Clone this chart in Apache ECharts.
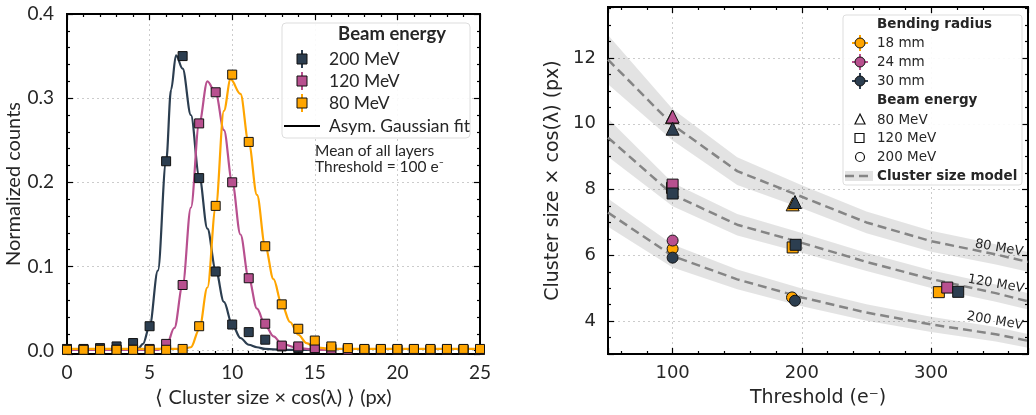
<!DOCTYPE html>
<html>
<head>
<meta charset="utf-8">
<script src="https://cdn.jsdelivr.net/npm/echarts@6/dist/echarts.min.js"></script>
<style>
  html, body { margin: 0; padding: 0; background: #fff; }
  #wrap { position: relative; width: 1036px; height: 415px; }
  #labels, #ticks, #chart { position: absolute; left: 0; top: 0; width: 1036px; height: 415px; }
</style>
</head>
<body>
<div id="wrap"><div id="labels"></div><div id="ticks"></div><div id="chart"></div></div>
<script>
// ---- left panel: cluster size distributions (threshold 100 e-) ----
const clusterSize = [0, 1, 2, 3, 4, 5, 6, 7, 8, 9, 10, 11, 12, 13, 14, 15, 16, 17, 18, 19, 20, 21, 22, 23, 24, 25];
const counts200 = [0.002, 0.002, 0.003, 0.005, 0.009, 0.029, 0.225, 0.350, 0.205, 0.094, 0.031, 0.022, 0.013, 0.005, 0.003, 0.002, 0.002, 0.001, 0.001, 0.001, 0.001, 0.001, 0.001, 0.001, 0.001, 0.001];
const counts120 = [0.001, 0.001, 0.001, 0.001, 0.001, 0.002, 0.008, 0.078, 0.270, 0.307, 0.200, 0.086, 0.032, 0.006, 0.005, 0.003, 0.002, 0.001, 0.001, 0.001, 0.001, 0.001, 0.001, 0.001, 0.001, 0.001];
const counts80 = [0.001, 0.001, 0.001, 0.001, 0.001, 0.001, 0.001, 0.002, 0.029, 0.172, 0.328, 0.248, 0.124, 0.055, 0.026, 0.012, 0.005, 0.003, 0.002, 0.002, 0.002, 0.002, 0.002, 0.002, 0.002, 0.002];

// asymmetric gaussian fits
const fit200X = [0, 4.0, 4.3, 4.6, 5.0, 5.5, 6.0, 6.3, 6.6, 7.0, 7.5, 8.0, 8.5, 9.0, 9.5, 10.0, 10.5, 11.0, 11.5, 12.0, 13.0, 16.0];
const fit200Y = [0.001, 0.001, 0.002, 0.008, 0.029, 0.095, 0.225, 0.31, 0.351, 0.335, 0.28, 0.208, 0.145, 0.096, 0.058, 0.031, 0.015, 0.007, 0.004, 0.002, 0.001, 0.001];
const fit120X = [0, 5.5, 6.0, 6.5, 7.0, 7.5, 8.0, 8.5, 9.0, 9.5, 10.0, 10.5, 11.0, 11.5, 12.0, 12.5, 13.0, 14.0, 15.0, 16.0];
const fit120Y = [0.001, 0.001, 0.005, 0.027, 0.078, 0.17, 0.27, 0.32, 0.306, 0.262, 0.200, 0.138, 0.086, 0.05, 0.03, 0.017, 0.008, 0.003, 0.001, 0.001];
const fit80X = [0, 7.0, 7.5, 8.0, 8.5, 9.0, 9.5, 9.9, 10.5, 11.0, 11.5, 12.0, 12.5, 13.0, 13.5, 14.0, 14.5, 15.0, 16.0, 25];
const fit80Y = [0.002, 0.002, 0.004, 0.025, 0.075, 0.17, 0.285, 0.3225, 0.305, 0.247, 0.185, 0.124, 0.085, 0.055, 0.034, 0.019, 0.009, 0.004, 0.002, 0.002];

// ---- right panel: mean cluster size vs threshold ----
const modelThreshold = [50, 100, 150, 200, 250, 300, 350, 375];
const model80 = [11.95, 9.97, 8.56, 7.78, 7.0, 6.43, 6.03, 5.8];
const model80Low = [11.2, 9.49, 8.14, 7.43, 6.67, 6.11, 5.72, 5.5];
const model80High = [12.7, 10.45, 8.98, 8.13, 7.33, 6.75, 6.34, 6.1];
const model120 = [9.58, 7.85, 6.93, 6.38, 5.8, 5.28, 4.85, 4.6];
const model120Low = [9.0, 7.49, 6.6, 6.08, 5.52, 5.01, 4.59, 4.35];
const model120High = [10.16, 8.21, 7.26, 6.68, 6.08, 5.55, 5.11, 4.85];
const model200 = [7.3, 5.98, 5.27, 4.72, 4.26, 3.9, 3.6, 3.4];
const model200Low = [6.87, 5.63, 4.97, 4.45, 4.01, 3.67, 3.38, 3.19];
const model200High = [7.73, 6.33, 5.57, 4.99, 4.51, 4.13, 3.82, 3.61];

// measurements per bending radius: [threshold, cluster size]
const r18e80 = [[99.5, 10.2], [192.9, 7.55]];
const r18e120 = [[99.5, 8.05], [192.9, 6.24], [306, 4.88]];
const r18e200 = [[100, 6.2], [192.4, 4.72]];
const r24e80 = [[100, 10.22]];
const r24e120 = [[100, 8.15], [312.5, 5.02]];
const r24e200 = [[100, 6.45]];
const r30e80 = [[100, 9.85], [194.7, 7.62]];
const r30e120 = [[100, 7.88], [195.2, 6.32], [321, 4.89]];
const r30e200 = [[100, 5.93], [194.7, 4.62]];

const xTicksLeft = [0, 5, 10, 15, 20, 25];
const yTicksLeft = [0, 0.1, 0.2, 0.3, 0.4];
const xTicksRight = [100, 200, 300];
const yTicksRight = [4, 6, 8, 10, 12];

const NAVY = '#2c3e50';
const PINK = '#b8508f';
const ORANGE = '#ffa500';
const fontL = 'Lato';
const fontR = 'DejaVu Sans';
const TXT = '#262626';

const grids = [
  { left: 67, top: 14, width: 413, height: 340 },
  { left: 608, top: 7, width: 420, height: 347 }
];
// scale settings of the 4 x and 4 y axes: [grid, position, min, max, interval, splitNumber, minor split]
const xScales = [[0, 'bottom', 0, 25, 5, null, 5], [0, 'top', 0, 25, 5, null, 5],
                 [1, 'bottom', 50, 375, null, 3, 5], [1, 'top', 50, 375, null, 3, 5]];
const yScales = [[0, 'left', -0.004, 0.4, null, 4, 5], [0, 'right', -0.004, 0.4, null, 4, 5],
                 [1, 'left', 3.0, 13.55, null, 5, 4], [1, 'right', 3.0, 13.55, null, 5, 4]];

// mode 'tick': frame lines and inward ticks; 'label': labels, titles, grid lines; 'data': hidden
function axis(s, mode, opt) {
  const showTick = mode === 'tick';
  const a = {
    type: 'value', gridIndex: s[0], position: s[1], min: s[2], max: s[3],
    axisLine: { show: showTick, onZero: false, lineStyle: { color: '#000', width: 2 } },
    axisTick: { show: showTick, inside: true, length: 6, lineStyle: { color: '#000', width: 1.2 } },
    axisLabel: { show: false },
    splitLine: { show: false }
  };
  if (s[4] != null) a.interval = s[4];
  if (s[5] != null) a.splitNumber = s[5];
  if (showTick) a.minorTick = { show: true, splitNumber: s[6], length: 3, lineStyle: { color: '#000', width: 1.2 } };
  if (mode === 'label' && opt) Object.assign(a, opt);
  return a;
}
const keep = (list, fmt) => v => {
  const hit = list.find(t => Math.abs(t - v) < 1e-9);
  return hit === undefined ? '' : (fmt ? fmt(hit) : String(hit));
};
const label = (list, font, size, margin, fmt) => ({
  show: true, margin: margin, color: TXT, fontFamily: font, fontSize: size, formatter: keep(list, fmt)
});
const dotted = { show: true, lineStyle: { color: '#cccccc', type: [2, 3], width: 1 } };

const xLabelOpts = [
  { axisLabel: label(xTicksLeft, fontL, 19, 9), splitLine: dotted,
    name: '\u27e8 Cluster size \u00d7 cos(\u03bb) \u27e9 (px)', nameLocation: 'middle', nameGap: 34,
    nameTextStyle: { color: TXT, fontFamily: fontL, fontSize: 20 } },
  null,
  { axisLabel: label(xTicksRight, fontR, 18, 10), splitLine: dotted,
    name: 'Threshold (e\u207b)', nameLocation: 'middle', nameGap: 35,
    nameTextStyle: { color: TXT, fontFamily: fontR, fontSize: 19 } },
  null
];
const yLabelOpts = [
  { axisLabel: label(yTicksLeft, fontL, 19, 13, v => v.toFixed(1)), splitLine: dotted,
    name: 'Normalized counts', nameLocation: 'middle', nameGap: 40,
    nameTextStyle: { color: TXT, fontFamily: fontL, fontSize: 20 } },
  null,
  { axisLabel: label(yTicksRight, fontR, 18, 12), splitLine: dotted,
    name: 'Cluster size \u00d7 cos(\u03bb) (px)', nameLocation: 'middle', nameGap: 45,
    nameTextStyle: { color: TXT, fontFamily: fontR, fontSize: 19 } },
  null
];
const xAxes = mode => xScales.map((s, i) => axis(s, mode, xLabelOpts[i]));
const yAxes = mode => yScales.map((s, i) => axis(s, mode, yLabelOpts[i]));

const pairs = (xs, ys) => xs.map((x, i) => [x, ys[i]]);

function fitLine(xs, ys, color) {
  return { type: 'line', xAxisIndex: 0, yAxisIndex: 0, data: pairs(xs, ys), smooth: 0.35, smoothMonotone: 'x',
           symbol: 'none', silent: true, z: 2, lineStyle: { color: color, width: 2.2 } };
}
function countPoints(ys, color) {
  return { type: 'scatter', xAxisIndex: 0, yAxisIndex: 0, data: pairs(clusterSize, ys), symbol: 'rect', symbolSize: 9,
           z: 3, itemStyle: { color: color, borderColor: '#111', borderWidth: 1, opacity: 1 } };
}
// uncertainty band of the model as one polygon, placed through the axes
function band(low, high) {
  return {
    type: 'custom', xAxisIndex: 2, yAxisIndex: 2, silent: true, z: 1,
    data: [[modelThreshold[0], low[0]]],
    renderItem: (params, api) => {
      const top = modelThreshold.map((t, i) => api.coord([t, high[i]]));
      const bottom = modelThreshold.map((t, i) => api.coord([t, low[i]])).reverse();
      return { type: 'polygon', shape: { points: top.concat(bottom) }, style: { fill: 'rgba(0,0,0,0.11)' } };
    }
  };
}
function modelLine(ys) {
  return { type: 'line', xAxisIndex: 2, yAxisIndex: 2, data: pairs(modelThreshold, ys), symbol: 'none', silent: true, z: 2,
           lineStyle: { color: '#858585', width: 2.5, type: [9, 5] } };
}
function measured(points, symbol, size, color) {
  return { type: 'scatter', xAxisIndex: 2, yAxisIndex: 2, data: points, symbol: symbol, symbolSize: size, z: 4,
           itemStyle: { color: color, borderColor: '#111', borderWidth: 1, opacity: 1 } };
}

const series = [
  fitLine(fit200X, fit200Y, NAVY),
  fitLine(fit120X, fit120Y, PINK),
  fitLine(fit80X, fit80Y, ORANGE),
  countPoints(counts200, NAVY),
  countPoints(counts120, PINK),
  countPoints(counts80, ORANGE),
  band(model80Low, model80High),
  band(model120Low, model120High),
  band(model200Low, model200High),
  modelLine(model80), modelLine(model120), modelLine(model200),
  measured(r18e80, 'triangle', 13, ORANGE), measured(r18e120, 'rect', 11, ORANGE), measured(r18e200, 'circle', 11, ORANGE),
  measured(r24e80, 'triangle', 13, PINK), measured(r24e120, 'rect', 11, PINK), measured(r24e200, 'circle', 11, PINK),
  measured(r30e80, 'triangle', 13, NAVY), measured(r30e120, 'rect', 11, NAVY), measured(r30e200, 'circle', 11, NAVY)
];

// legends and curve labels drawn as graphics
function txt(x, y, text, font, size, weight, align, rotation) {
  return { type: 'text', x: x, y: y, z: 20, rotation: rotation || 0,
    style: { text: text, fill: TXT, fontFamily: font, fontSize: size, fontWeight: weight || 'normal',
             align: align || 'left', verticalAlign: 'middle' } };
}
function legendSquare(x, y, color) {
  return [
    { type: 'line', z: 20, shape: { x1: x, y1: y - 9, x2: x, y2: y + 9 }, style: { stroke: color, lineWidth: 2 } },
    { type: 'rect', z: 21, shape: { x: x - 5, y: y - 5, width: 10, height: 10 }, style: { fill: color, stroke: '#111', lineWidth: 1 } }
  ];
}
function legendDot(x, y, color) {
  return [
    { type: 'line', z: 20, shape: { x1: x - 8, y1: y, x2: x + 8, y2: y }, style: { stroke: color, lineWidth: 2 } },
    { type: 'line', z: 20, shape: { x1: x, y1: y - 8, x2: x, y2: y + 8 }, style: { stroke: color, lineWidth: 2 } },
    { type: 'circle', z: 21, shape: { cx: x, cy: y, r: 5 }, style: { fill: color, stroke: '#111', lineWidth: 1 } }
  ];
}

const graphics = [
  // left legend
  { type: 'rect', z: 19, shape: { x: 282, y: 23, width: 188, height: 115, r: 4 },
    style: { fill: 'rgba(255,255,255,0.9)', stroke: '#dddddd', lineWidth: 1 } },
  txt(392, 34, 'Beam energy', fontL, 18.5, 'bold', 'center'),
  ...legendSquare(302, 59, NAVY), txt(329, 59, '200 MeV', fontL, 17.5),
  ...legendSquare(302, 81, PINK), txt(329, 81, '120 MeV', fontL, 17.5),
  ...legendSquare(302, 103, ORANGE), txt(329, 103, '80 MeV', fontL, 17.5),
  { type: 'line', z: 20, shape: { x1: 284, y1: 126, x2: 320, y2: 126 }, style: { stroke: '#000', lineWidth: 2.2 } },
  txt(329, 126, 'Asym. Gaussian fit', fontL, 17.5),
  txt(315, 151, 'Mean of all layers', fontL, 15.5),
  txt(315, 167, 'Threshold = 100 e\u207b', fontL, 15.5),

  // right legend
  { type: 'rect', z: 19, shape: { x: 843, y: 15, width: 179, height: 170, r: 3 },
    style: { fill: 'rgba(255,255,255,0.9)', stroke: '#dddddd', lineWidth: 1 } },
  txt(877, 24, 'Bending radius', fontR, 13.5, 'bold'),
  ...legendDot(860, 43, ORANGE), txt(877, 43, '18 mm', fontR, 13.5),
  ...legendDot(860, 62, PINK), txt(877, 62, '24 mm', fontR, 13.5),
  ...legendDot(860, 81, NAVY), txt(877, 81, '30 mm', fontR, 13.5),
  txt(877, 100, 'Beam energy', fontR, 13.5, 'bold'),
  { type: 'polygon', z: 20, shape: { points: [[860, 114], [865, 124], [855, 124]] }, style: { fill: '#fff', stroke: '#111', lineWidth: 1.2 } },
  txt(877, 120, '80 MeV', fontR, 13.5),
  { type: 'rect', z: 20, shape: { x: 855, y: 133.5, width: 9, height: 9 }, style: { fill: '#fff', stroke: '#111', lineWidth: 1.2 } },
  txt(877, 138, '120 MeV', fontR, 13.5),
  { type: 'circle', z: 20, shape: { cx: 860, cy: 157, r: 4.5 }, style: { fill: '#fff', stroke: '#111', lineWidth: 1.2 } },
  txt(877, 157, '200 MeV', fontR, 13.5),
  { type: 'rect', z: 20, shape: { x: 845, y: 171, width: 28, height: 10 }, style: { fill: '#e3e3e3' } },
  { type: 'line', z: 21, shape: { x1: 845, y1: 176, x2: 873, y2: 176 }, style: { stroke: '#858585', lineWidth: 2.5, lineDash: [9, 5] } },
  txt(877, 176, 'Cluster size model', fontR, 13.5, 'bold'),

  // model curve labels
  txt(999, 248, '80 MeV', fontR, 13, 'normal', 'center', -0.17),
  txt(996, 284, '120 MeV', fontR, 13, 'normal', 'center', -0.17),
  txt(995, 321, '200 MeV', fontR, 13, 'normal', 'center', -0.17)
];

// bottom layer: tick labels, axis titles, dotted grid lines
echarts.init(document.getElementById('labels')).setOption({
  backgroundColor: '#fff',
  animation: false,
  grid: grids,
  xAxis: xAxes('label'),
  yAxis: yAxes('label'),
  series: [
    { type: 'scatter', xAxisIndex: 0, yAxisIndex: 0, data: [[5, 0.1]], itemStyle: { opacity: 0 }, silent: true },
    { type: 'scatter', xAxisIndex: 2, yAxisIndex: 2, data: [[100, 6]], itemStyle: { opacity: 0 }, silent: true }
  ]
});

// middle layer: box frame with inward major and minor ticks on all four sides
echarts.init(document.getElementById('ticks')).setOption({
  animation: false,
  grid: grids.map(g => Object.assign({ show: true, borderColor: '#000', borderWidth: 2, backgroundColor: 'transparent' }, g)),
  xAxis: xAxes('tick'),
  yAxis: yAxes('tick'),
  series: [
    { type: 'scatter', xAxisIndex: 0, yAxisIndex: 0, data: [[5, 0.1]], itemStyle: { opacity: 0 }, silent: true },
    { type: 'scatter', xAxisIndex: 2, yAxisIndex: 2, data: [[100, 6]], itemStyle: { opacity: 0 }, silent: true }
  ]
});

// top layer: data marks and legends, on the same (hidden) axes
echarts.init(document.getElementById('chart')).setOption({
  animation: false,
  grid: grids,
  xAxis: xAxes('data'),
  yAxis: yAxes('data'),
  series: series,
  graphic: graphics
});
</script>
</body>
</html>
